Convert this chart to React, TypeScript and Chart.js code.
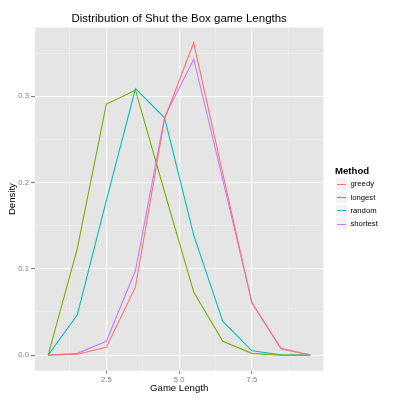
import React, { useEffect, useRef } from 'react';
import Chart from 'chart.js/auto';

const gameLength = [0.5, 1.5, 2.5, 3.5, 4.5, 5.5, 6.5, 7.5, 8.5, 9.5];
const greedy = [0, 0.001, 0.009, 0.079, 0.274, 0.362, 0.21, 0.06, 0.008, 0];
const longest = [0, 0.123, 0.291, 0.307, 0.189, 0.073, 0.016, 0.002, 0, 0];
const random = [0, 0.0465, 0.179, 0.309, 0.275, 0.139, 0.039, 0.005, 0.0004, 0];
const shortest = [0, 0.002, 0.016, 0.098, 0.276, 0.343, 0.203, 0.061, 0.007, 0];

const methods = ['greedy', 'longest', 'random', 'shortest'];
const colors = ['#F8766D', '#7CAE00', '#00BFC4', '#C77CFF'];

const xMajor = [2.5, 5, 7.5];
const xMinor = [1.25, 3.75, 6.25, 8.75];
const yMajor = [0, 0.1, 0.2, 0.3];
const yMinor = [0.05, 0.15, 0.25, 0.35];

const FONT = '"Liberation Sans", Arial, sans-serif';

const panelBg = {
  id: 'panelBg',
  beforeDraw(chart: any) {
    const { ctx, chartArea } = chart;
    ctx.save();
    ctx.fillStyle = '#E5E5E5';
    ctx.fillRect(chartArea.left, chartArea.top, chartArea.width, chartArea.height);
    ctx.restore();
  },
};

const isMajor = (list: number[], v: number) => list.some((m) => Math.abs(m - v) < 1e-9);

const App: React.FC = () => {
  const canvasRef = useRef<HTMLCanvasElement>(null);
  const chartRef = useRef<Chart>();

  useEffect(() => {
    document.body.style.margin = '0';
    if (!canvasRef.current) return;
    const ctx = canvasRef.current.getContext('2d');
    if (!ctx) return;
    if (chartRef.current) chartRef.current.destroy();

    const series = [greedy, longest, random, shortest];

    chartRef.current = new Chart(ctx, {
      type: 'line',
      data: {
        datasets: series.map((s, i) => ({
          label: methods[i],
          data: s.map((y, j) => ({ x: gameLength[j], y })),
          borderColor: colors[i],
          borderWidth: 1.1,
          pointRadius: 0,
          tension: 0,
          fill: false,
        })),
      },
      plugins: [panelBg],
      options: {
        animation: false,
        responsive: false,
        layout: { padding: { right: 76.7 } },
        plugins: {
          legend: { display: false },
          tooltip: { enabled: false },
          title: {
            display: true,
            fullSize: false,
            text: 'Distribution of Shut the Box game Lengths',
            color: '#000',
            font: { family: FONT, size: 11.5, weight: 'normal' },
            padding: { top: 12.1, bottom: 1.6 },
          },
        },
        scales: {
          x: {
            type: 'linear',
            min: 0.05,
            max: 9.95,
            afterBuildTicks: (scale: any) => {
              scale.ticks = [...xMinor, ...xMajor].sort((a, b) => a - b).map((v) => ({ value: v }));
            },
            afterFit: (scale: any) => {
              scale.height = 29.3;
            },
            border: { display: false },
            grid: {
              color: (c: any) => (isMajor(xMajor, c.tick?.value) ? '#FFFFFF' : '#F2F2F2'),
              lineWidth: (c: any) => (isMajor(xMajor, c.tick?.value) ? 1.1 : 0.5),
              tickColor: (c: any) => (isMajor(xMajor, c.tick?.value) ? '#7F7F7F' : 'rgba(0,0,0,0)'),
              tickLength: 3,
            },
            ticks: {
              autoSkip: false,
              maxRotation: 0,
              padding: 1.5,
              color: '#7F7F7F',
              font: { family: FONT, size: 7.7 },
              callback: (v: any) => (isMajor(xMajor, Number(v)) ? Number(v).toFixed(1) : ''),
            },
            title: {
              display: true,
              text: 'Game Length',
              color: '#000',
              font: { family: FONT, size: 9.6 },
              padding: { top: 0, bottom: 5.4 },
            },
          },
          y: {
            type: 'linear',
            min: -0.0181,
            max: 0.3797,
            afterBuildTicks: (scale: any) => {
              scale.ticks = [...yMajor, ...yMinor].sort((a, b) => a - b).map((v) => ({ value: v }));
            },
            afterFit: (scale: any) => {
              scale.width = 35;
            },
            border: { display: false },
            grid: {
              color: (c: any) => (isMajor(yMajor, c.tick?.value) ? '#FFFFFF' : '#F2F2F2'),
              lineWidth: (c: any) => (isMajor(yMajor, c.tick?.value) ? 1.1 : 0.5),
              tickColor: (c: any) => (isMajor(yMajor, c.tick?.value) ? '#7F7F7F' : 'rgba(0,0,0,0)'),
              tickLength: 4,
            },
            ticks: {
              autoSkip: false,
              padding: 2,
              color: '#7F7F7F',
              font: { family: FONT, size: 7.7 },
              callback: (v: any) => (isMajor(yMajor, Number(v)) ? Number(v).toFixed(1) : ''),
            },
            title: {
              display: true,
              text: 'Density',
              color: '#000',
              font: { family: FONT, size: 9.6 },
              padding: { top: 7, bottom: 0 },
            },
          },
        },
      },
    });

    return () => {
      if (chartRef.current) {
        chartRef.current.destroy();
        chartRef.current = undefined;
      }
    };
  }, []);

  return (
    <div style={{ position: 'relative', width: 400, height: 400, background: '#fff' }}>
      <canvas ref={canvasRef} width={400} height={400} />
      <div style={{ position: 'absolute', left: 335, top: 164, fontFamily: FONT }}>
        <div style={{ fontSize: 9.6, fontWeight: 'bold', height: 13.3, lineHeight: '13px' }}>Method</div>
        {methods.map((m, i) => (
          <div key={m} style={{ display: 'flex', alignItems: 'center', height: 13.3 }}>
            <div
              style={{
                width: 13,
                height: 13.3,
                boxSizing: 'border-box',
                background: '#F2F2F2',
                border: '1px solid #FFFFFF',
                position: 'relative',
              }}
            >
              <div
                style={{
                  position: 'absolute',
                  left: 1,
                  right: 1,
                  top: 5.6,
                  height: 1,
                  background: colors[i],
                }}
              />
            </div>
            <span style={{ fontSize: 7.7, color: '#000', marginLeft: 2.5 }}>{m}</span>
          </div>
        ))}
      </div>
    </div>
  );
};

export default App;
